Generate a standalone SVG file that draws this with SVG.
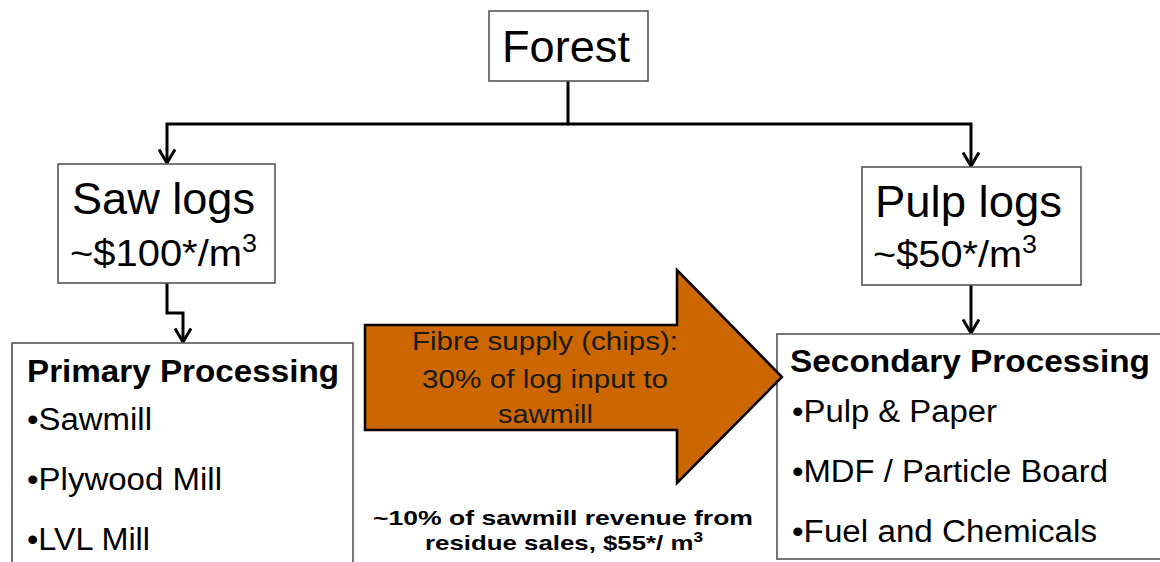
<svg xmlns="http://www.w3.org/2000/svg" width="1160" height="562" viewBox="0 0 1160 562">
  <style>
    .box { fill: #ffffff; stroke: #555555; stroke-width: 1.6; }
    .wire { fill: none; stroke: #000000; stroke-width: 3; }
    text { font-family: "Liberation Sans", Arial, sans-serif; fill: #000000; }
    .big { font-size: 44px; }
    .price { font-size: 37px; }
    .head { font-size: 31px; font-weight: bold; }
    .item { font-size: 31px; }
    .flow { font-size: 25px; fill: #1a1a1a; }
    .note { font-size: 21px; font-weight: bold; }
  </style>
  <defs>
    <marker id="chev" viewBox="0 0 16 18" refX="14.5" refY="9" markerWidth="16" markerHeight="18" markerUnits="userSpaceOnUse" orient="auto">
      <path d="M1,1 L14.5,9 L1,17" fill="none" stroke="#000000" stroke-width="3" stroke-linejoin="miter"/>
    </marker>
  </defs>

  <rect width="1160" height="562" fill="#ffffff"/>

  <!-- connectors -->
  <g id="connectors">
    <path class="wire" d="M568,81 V124"/>
    <path class="wire" d="M569,124 H167 V163" marker-end="url(#chev)"/>
    <path class="wire" d="M567,124 H971 V166" marker-end="url(#chev)"/>
    <path class="wire" d="M167,283 V313 H183 V342" marker-end="url(#chev)"/>
    <path class="wire" d="M971,285 V333" marker-end="url(#chev)"/>
  </g>

  <g id="forest">
    <rect class="box" x="489" y="11" width="159" height="70"/>
    <text class="big" x="502" y="62" font-size="45" textLength="128" lengthAdjust="spacingAndGlyphs">Forest</text>
  </g>

  <g id="saw-logs">
    <rect class="box" x="58" y="164" width="217" height="119"/>
    <text class="big" x="72" y="214" textLength="183" lengthAdjust="spacingAndGlyphs">Saw logs</text>
    <text class="price" x="70" y="266" textLength="187" lengthAdjust="spacingAndGlyphs">~$100*/m<tspan font-size="25" dy="-14">3</tspan></text>
  </g>

  <g id="pulp-logs">
    <rect class="box" x="862" y="167" width="219" height="118"/>
    <text class="big" x="875" y="217" textLength="187" lengthAdjust="spacingAndGlyphs">Pulp logs</text>
    <text class="price" x="873" y="267" textLength="164" lengthAdjust="spacingAndGlyphs">~$50*/m<tspan font-size="25" dy="-14">3</tspan></text>
  </g>

  <g id="primary-processing">
    <rect class="box" x="12" y="343" width="341" height="230"/>
    <text class="head" x="27" y="382" textLength="312" lengthAdjust="spacingAndGlyphs">Primary Processing</text>
    <text class="item" x="27" y="430" textLength="125" lengthAdjust="spacingAndGlyphs">•Sawmill</text>
    <text class="item" x="27" y="490" textLength="195" lengthAdjust="spacingAndGlyphs">•Plywood Mill</text>
    <text class="item" x="27" y="550" textLength="123" lengthAdjust="spacingAndGlyphs">•LVL Mill</text>
  </g>

  <g id="secondary-processing">
    <rect class="box" x="777" y="334" width="400" height="225"/>
    <text class="head" x="790" y="372" textLength="360" lengthAdjust="spacingAndGlyphs">Secondary Processing</text>
    <text class="item" x="792" y="422" textLength="205" lengthAdjust="spacingAndGlyphs">•Pulp &amp; Paper</text>
    <text class="item" x="792" y="482" textLength="316" lengthAdjust="spacingAndGlyphs">•MDF / Particle Board</text>
    <text class="item" x="792" y="542" textLength="305" lengthAdjust="spacingAndGlyphs">•Fuel and Chemicals</text>
  </g>

  <g id="fibre-supply">
    <path d="M365,325 H677 V270 L782,377 L677,483 V430 H365 Z" fill="#cc6600" stroke="#000000" stroke-width="2.5" stroke-linejoin="miter"/>
    <text class="flow" x="412" y="350" textLength="266" lengthAdjust="spacingAndGlyphs">Fibre supply (chips):</text>
    <text class="flow" x="422" y="388" textLength="246" lengthAdjust="spacingAndGlyphs">30% of log input to</text>
    <text class="flow" x="498" y="423" textLength="95" lengthAdjust="spacingAndGlyphs">sawmill</text>
  </g>

  <g id="residue-note">
    <text class="note" x="373" y="525" textLength="380" lengthAdjust="spacingAndGlyphs">~10% of sawmill revenue from</text>
    <text class="note" x="425" y="550" textLength="278" lengthAdjust="spacingAndGlyphs">residue sales, $55*/ m<tspan font-size="14" dy="-8">3</tspan></text>
  </g>
</svg>
